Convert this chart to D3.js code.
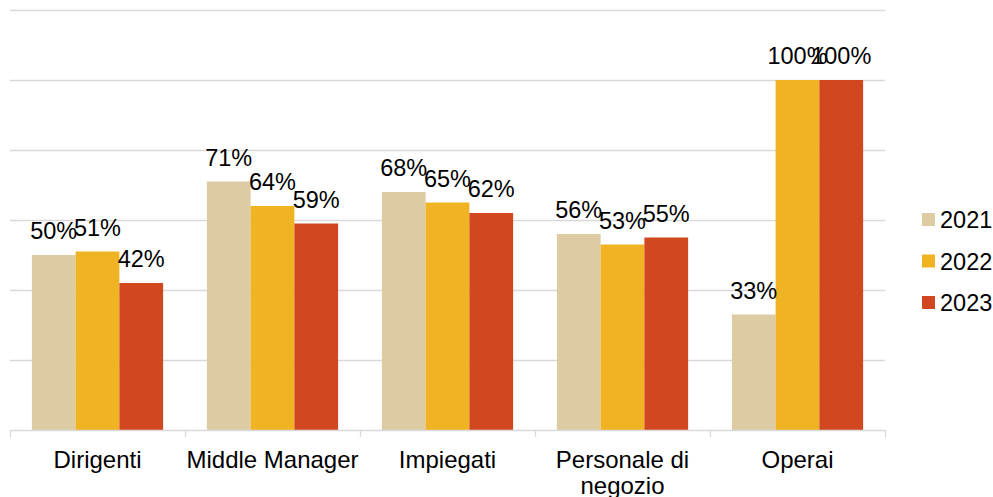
<!DOCTYPE html>
<html>
<head>
<meta charset="utf-8">
<script src="https://cdn.jsdelivr.net/npm/d3@7"></script>
<style>
  body { margin: 0; background: #fff; }
  text { font-family: "Liberation Sans", Arial, sans-serif; fill: #000; }
</style>
</head>
<body>
<script>
// Data
var categories = ["Dirigenti", "Middle Manager", "Impiegati", "Personale di negozio", "Operai"];
var years = ["2021", "2022", "2023"];
var values2021 = [50, 71, 68, 56, 33];
var values2022 = [51, 64, 65, 53, 100];
var values2023 = [42, 59, 62, 55, 100];
var yTicks = [0, 20, 40, 60, 80, 100, 120];
var colors = ["#DDCBA4", "#F0B323", "#D14820"];

var series = [values2021, values2022, values2023];

var width = 993, height = 497;

var svg = d3.select("body").append("svg")
    .attr("width", width)
    .attr("height", height);

// Scales
var x = d3.scaleBand()
    .domain(categories)
    .range([10, 885])
    .paddingInner(0)
    .paddingOuter(0);

var xInner = d3.scaleBand()
    .domain(years)
    .range([0, x.bandwidth()])
    .paddingOuter(0.5)
    .paddingInner(0);

var y = d3.scaleLinear()
    .domain([0, 120])
    .range([430, 10]);

// Gridlines
svg.append("g")
    .selectAll("line")
    .data(yTicks.slice(1))
    .enter().append("line")
    .attr("x1", 10)
    .attr("x2", 885)
    .attr("y1", function (d) { return y(d) + 0.5; })
    .attr("y2", function (d) { return y(d) + 0.5; })
    .attr("stroke", "#d9d9d9")
    .attr("stroke-width", 1.3);

// Bars
var groups = svg.append("g")
    .selectAll("g")
    .data(categories)
    .enter().append("g")
    .attr("transform", function (d) { return "translate(" + x(d) + ",0)"; });

years.forEach(function (yr, si) {
    groups.append("rect")
        .attr("x", xInner(yr))
        .attr("width", xInner.bandwidth())
        .attr("y", function (d, i) { return y(series[si][i]); })
        .attr("height", function (d, i) { return y(0) - y(series[si][i]); })
        .attr("fill", colors[si]);
});

// Data labels
years.forEach(function (yr, si) {
    groups.append("text")
        .attr("x", xInner(yr) + xInner.bandwidth() / 2)
        .attr("y", function (d, i) { return y(series[si][i]) - 16; })
        .attr("text-anchor", "middle")
        .attr("font-size", "23.5px")
        .text(function (d, i) { return series[si][i] + "%"; });
});

// X axis baseline and ticks
var axis = svg.append("g");
axis.append("line")
    .attr("x1", 10).attr("x2", 885)
    .attr("y1", y(0) + 0.5).attr("y2", y(0) + 0.5)
    .attr("stroke", "#d9d9d9")
    .attr("stroke-width", 1.3);

var tickPos = categories.map(function (c) { return x(c); }).concat([885]);
axis.selectAll(".tick")
    .data(tickPos)
    .enter().append("line")
    .attr("x1", function (d) { return d + 0.5; })
    .attr("x2", function (d) { return d + 0.5; })
    .attr("y1", y(0))
    .attr("y2", y(0) + 7)
    .attr("stroke", "#d9d9d9")
    .attr("stroke-width", 1.3);

// Category labels (wrapped)
var wrapped = {
    "Personale di negozio": ["Personale di", "negozio"]
};
axis.selectAll(".cat")
    .data(categories)
    .enter().append("text")
    .attr("class", "cat")
    .attr("text-anchor", "middle")
    .attr("font-size", "24px")
    .each(function (d) {
        var lines = wrapped[d] || [d];
        var t = d3.select(this);
        lines.forEach(function (ln, k) {
            t.append("tspan")
                .attr("x", x(d) + x.bandwidth() / 2)
                .attr("y", 468 + k * 26)
                .text(ln);
        });
    });

// Legend
var legend = svg.append("g")
    .selectAll("g")
    .data(years)
    .enter().append("g")
    .attr("transform", function (d, i) { return "translate(922," + (220 + i * 41.5) + ")"; });

legend.append("rect")
    .attr("x", 0)
    .attr("y", -7)
    .attr("width", 13)
    .attr("height", 13)
    .attr("fill", function (d, i) { return colors[i]; });

legend.append("text")
    .attr("x", 18)
    .attr("y", 8)
    .attr("font-size", "23.5px")
    .text(function (d) { return d; });
</script>
</body>
</html>
